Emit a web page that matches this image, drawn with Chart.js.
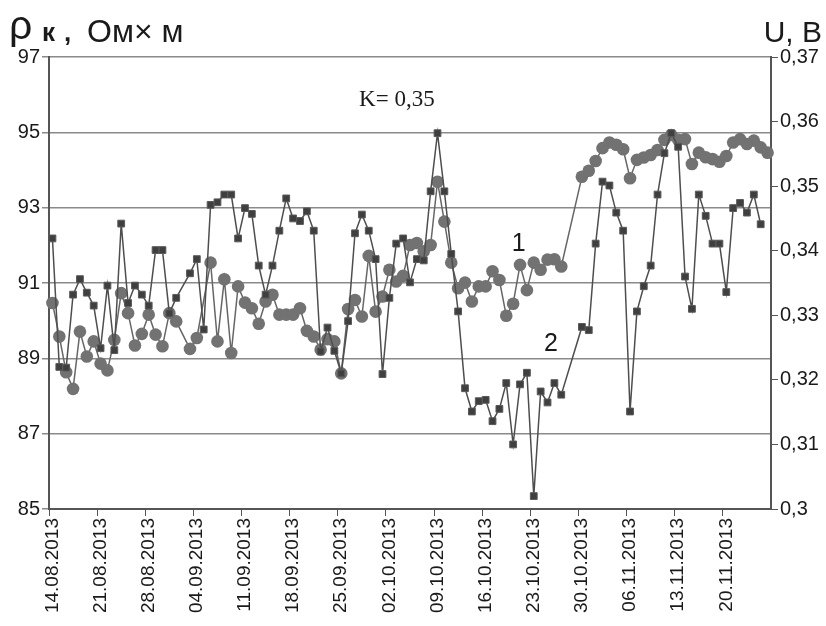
<!DOCTYPE html>
<html>
<head>
<meta charset="utf-8">
<script src="https://cdn.jsdelivr.net/npm/chart.js@4.4.1/dist/chart.umd.min.js"></script>
<style>
  html, body { margin: 0; padding: 0; background: #fff; }
  #wrap { width: 826px; height: 626px; }
</style>
</head>
<body>
<div id="wrap"><canvas id="rhoChart" width="826" height="626"></canvas></div>
<script>
// days from 14.08.2013, one value a day, null = no measurement
var startYear = 2013, startMonth = 7, startDate = 14;
var dayCount = 105;
var labelStep = 7;

// curve 1 - rho_k, Ohm*m (circles, left axis)
var rhoValues = [
  90.47, 89.58, 88.63, 88.19, 89.71, 89.05, 89.45, 88.86, 88.68, 89.49,
  90.73, 90.2, 89.34, 89.65, 90.16, 89.63, 89.32, 90.2, 89.98, null,
  89.25, 89.54, null, 91.54, 89.45, 91.1, 89.14, 90.91, 90.48, 90.33,
  89.92, 90.51, 90.69, 90.16, 90.16, 90.16, 90.33, 89.73, 89.58, 89.23,
  89.51, 89.45, 88.6, 90.31, 90.55, 90.11, 91.72, 90.24, 90.64, 91.35,
  91.04, 91.19, 92.01, 92.06, 91.84, 92.01, 93.69, 92.63, 91.54, 90.86,
  91.01, 90.51, 90.91, 90.91, 91.31, 91.08, 90.13, 90.45, 91.48, 90.81,
  91.54, 91.35, 91.62, 91.63, 91.44, null, null, 93.82, 93.98, 94.24,
  94.58, 94.73, 94.67, 94.55, 93.78, 94.27, 94.33, 94.4, 94.53, 94.8,
  94.93, 94.8, 94.82, 94.16, 94.46, 94.34, 94.29, 94.22, 94.37, 94.73,
  94.82, 94.69, 94.78, 94.6, 94.46
];

// curve 2 - U, V (squares, right axis)
var uValues = [
  0.3419, 0.3220, 0.3219, 0.3332, 0.3356, 0.3335, 0.3315, 0.3249, 0.3346, 0.3246,
  0.3442, 0.3319, 0.3346, 0.3332, 0.3315, 0.3401, 0.3401, 0.3303, 0.3327, null,
  0.3365, 0.3387, 0.3278, 0.3471, 0.3475, 0.3487, 0.3487, 0.3419, 0.3466, 0.3457,
  0.3377, 0.3332, 0.3377, 0.3431, 0.3481, 0.3450, 0.3446, 0.3461, 0.3431, 0.3244,
  0.3281, 0.3245, 0.3210, 0.3291, 0.3427, 0.3456, 0.3431, 0.3387, 0.3209, 0.3327,
  0.3411, 0.3419, 0.3351, 0.3387, 0.3385, 0.3492, 0.3582, 0.3492, 0.3395, 0.3306,
  0.3187, 0.3151, 0.3167, 0.3169, 0.3136, 0.3155, 0.3195, 0.3100, 0.3193, 0.3211,
  0.3020, 0.3182, 0.3165, 0.3195, 0.3177, null, null, 0.3282, 0.3277, 0.3411,
  0.3507, 0.3501, 0.3459, 0.3431, 0.3151, 0.3306, 0.3345, 0.3377, 0.3487, 0.3551,
  0.3582, 0.3561, 0.3360, 0.3310, 0.3487, 0.3454, 0.3411, 0.3411, 0.3336, 0.3466,
  0.3474, 0.3459, 0.3487, 0.3441, null
];

var leftMin = 85, leftMax = 97, leftStep = 2;
var rightMin = 0.30, rightMax = 0.37, rightStep = 0.01;

function pad(n) { return n < 10 ? '0' + n : '' + n; }

var dates = [];
for (var i = 0; i < dayCount; i++) {
  var d = new Date(startYear, startMonth, startDate + i);
  dates.push(pad(d.getDate()) + '.' + pad(d.getMonth() + 1) + '.' + d.getFullYear());
}

var sans = "'Liberation Sans', Arial, sans-serif";

// title texts and curve numbers
var textPlugin = {
  id: 'texts',
  afterDraw: function (chart) {
    var c = chart.ctx;
    var xs = chart.scales.x, yl = chart.scales.yL;
    c.save();
    c.fillStyle = '#1a1a1a';
    c.textBaseline = 'alphabetic';
    c.textAlign = 'left';

    c.font = '41px ' + sans;
    c.fillText('\u03c1', 9, 39);
    c.font = 'bold 26px ' + sans;
    c.fillText('\u043a', 42, 41);
    c.fillText(',', 64, 41);
    c.font = '32px ' + sans;
    c.fillText('\u041e\u043c\u00d7 \u043c', 87, 42);
    c.font = '30px ' + sans;
    c.textAlign = 'right';
    c.fillText('U, B', 822, 42);

    c.textAlign = 'left';
    c.font = '23px "Liberation Serif", "Times New Roman", serif';
    c.fillText('K= 0,35', xs.getPixelForValue(44.6), yl.getPixelForValue(95.7));
    c.font = '25px ' + sans;
    c.fillText('1', xs.getPixelForValue(66.8), yl.getPixelForValue(91.85));
    c.fillText('2', xs.getPixelForValue(71.5), yl.getPixelForValue(89.2));
    c.restore();
  }
};

new Chart(document.getElementById('rhoChart'), {
  type: 'line',
  data: {
    labels: dates,
    datasets: [{
      label: '1',
      data: rhoValues,
      yAxisID: 'yL',
      borderColor: '#666666',
      borderWidth: 1.5,
      pointStyle: 'circle',
      pointRadius: 6.3,
      pointBackgroundColor: '#727272',
      pointBorderColor: '#727272',
      pointBorderWidth: 0,
      spanGaps: true,
      tension: 0,
      order: 2
    }, {
      label: '2',
      data: uValues,
      yAxisID: 'yR',
      borderColor: '#4e4e4e',
      borderWidth: 1.5,
      pointStyle: 'rect',
      pointRadius: 4.8,
      pointBackgroundColor: '#3f3f3f',
      pointBorderColor: '#5a5a5a',
      pointBorderWidth: 1,
      spanGaps: true,
      tension: 0,
      order: 1
    }]
  },
  options: {
    responsive: false,
    animation: false,
    layout: { padding: { top: 57, left: 0, right: 0, bottom: 0 } },
    plugins: {
      legend: { display: false },
      tooltip: { enabled: false },
      title: { display: false }
    },
    scales: {
      x: {
        type: 'category',
        offset: true,
        grid: {
          offset: true,
          drawOnChartArea: false,
          drawTicks: true,
          tickLength: 7,
          tickColor: function (ctx) {
            return ctx.index % labelStep === 0 ? '#555555' : 'rgba(0,0,0,0)';
          }
        },
        border: { display: true, color: '#555555', width: 2 },
        ticks: {
          autoSkip: false,
          maxRotation: 90,
          minRotation: 90,
          padding: 2,
          color: '#1a1a1a',
          font: { family: sans, size: 19 },
          callback: function (v, i) { return i % labelStep === 0 ? dates[i] : ''; }
        },
        afterFit: function (s) { s.height = 117; }
      },
      yL: {
        position: 'left',
        min: leftMin,
        max: leftMax,
        ticks: {
          stepSize: leftStep,
          padding: 2,
          color: '#1a1a1a',
          font: { family: sans, size: 20 }
        },
        grid: { color: '#8a8a8a', lineWidth: 1.5, tickLength: 7 },
        border: { display: true, color: '#555555', width: 2 },
        afterFit: function (s) { s.width = 49; }
      },
      yR: {
        position: 'right',
        min: rightMin,
        max: rightMax,
        ticks: {
          stepSize: rightStep,
          padding: 2,
          color: '#1a1a1a',
          font: { family: sans, size: 20 },
          callback: function (v) { return String(Math.round(v * 100) / 100).replace('.', ','); }
        },
        grid: { drawOnChartArea: false, tickLength: 7, color: '#555555' },
        border: { display: true, color: '#555555', width: 2 },
        afterFit: function (s) { s.width = 55; }
      }
    }
  },
  plugins: [textPlugin]
});
</script>
</body>
</html>
